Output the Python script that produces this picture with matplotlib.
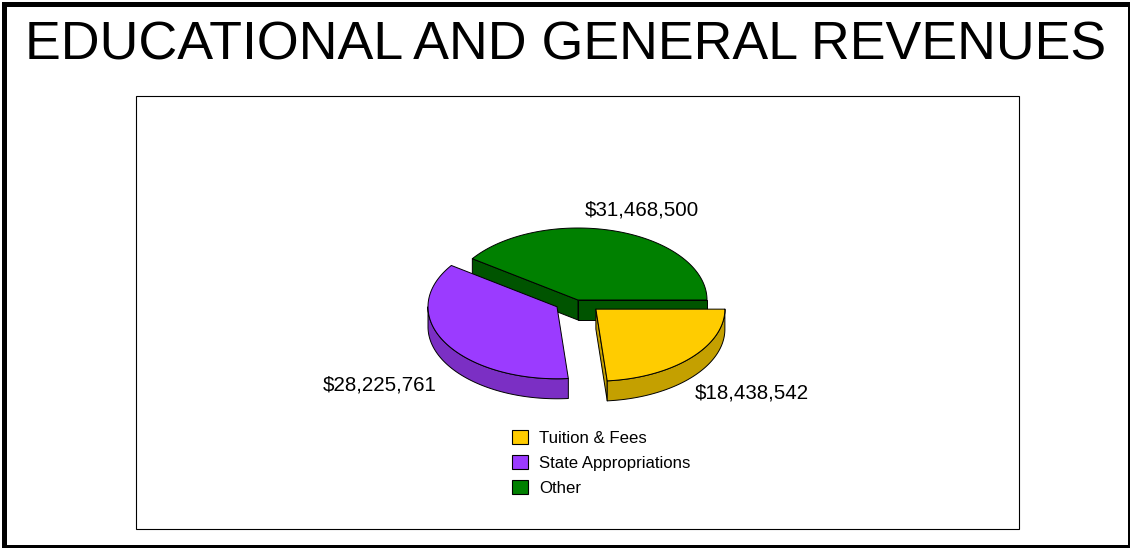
import numpy as np
import matplotlib
matplotlib.use("Agg")
import matplotlib.pyplot as plt
from matplotlib.patches import Polygon, Rectangle, Patch

# === DATA ===
categories = ["Tuition & Fees", "State Appropriations", "Other"]
revenues = [18438542, 28225761, 31468500]
value_labels = ["$18,438,542", "$28,225,761", "$31,468,500"]
explode = [0.188, 0.188, 0.0]

# === SETTINGS ===
W, H = 1130, 548
top_colors = ["#ffcc00", "#9b3bff", "#008000"]
side_colors = ["#c4a000", "#7b2fc4", "#005400"]
cx, cy = 578, 300
rx, ry = 129, 72
depth = 20
label_pos = [(752, 393), (380, 385), (642, 210)]

plt.rcParams["font.family"] = ["Liberation Sans", "DejaVu Sans"]


def arc(x0, y0, a0, a1):
    t = np.radians(np.linspace(a0, a1, 200))
    return np.column_stack([x0 + rx * np.cos(t), y0 - ry * np.sin(t)])


fig = plt.figure(figsize=(W / 100, H / 100), dpi=100)
ax = fig.add_axes([0, 0, 1, 1])
ax.set_xlim(0, W)
ax.set_ylim(H, 0)
ax.axis("off")

# outer border is uneven: thick left/top, thin right
ax.add_patch(Rectangle((2, 2), W - 2, H - 2, facecolor="black", edgecolor="none"))
ax.add_patch(Rectangle((7, 7), 1121, 538, facecolor="white", edgecolor="none"))
ax.add_patch(Rectangle((136, 96), 883, 433, fill=False, edgecolor="black", linewidth=0.8))

ax.text(566, 46, "EDUCATIONAL AND GENERAL REVENUES", ha="center", va="center", fontsize=38.7)

# slices start at 3 o'clock going counter clockwise: Other, State, Tuition
total = sum(revenues)
sweeps = [v / total * 360 for v in revenues]
start = {2: 0.0, 1: sweeps[2]}
start[0] = start[1] + sweeps[1]

line = dict(edgecolor="black", linewidth=0.7, joinstyle="round")
for i in [2, 1, 0]:
    a0, a1 = start[i], start[i] + sweeps[i]
    mid = np.radians((a0 + a1) / 2)
    x0 = cx + explode[i] * rx * np.cos(mid)
    y0 = cy - explode[i] * ry * np.sin(mid)
    apex = np.array([x0, y0])
    down = np.array([0, depth])

    # cut faces: the state slice shows none of its own
    cuts = {2: (a0, a1), 1: (), 0: (a0,)}[i]
    for a in cuts:
        p = arc(x0, y0, a, a)[0]
        ax.add_patch(Polygon([apex, p, p + down, apex + down], facecolor=side_colors[i], **line))

    # outer wall, only the part facing the viewer
    lo, hi = max(a0, 180), min(a1, 360)
    if hi > lo:
        top = arc(x0, y0, lo, hi)
        ax.add_patch(Polygon(np.vstack([top, (top + down)[::-1]]), facecolor=side_colors[i], **line))

    ax.add_patch(Polygon(np.vstack([[apex], arc(x0, y0, a0, a1)]), facecolor=top_colors[i], **line))

for (x, y), s in zip(label_pos, value_labels):
    ax.text(x, y, s, ha="center", va="center", fontsize=14.8)

handles = [Patch(facecolor=c, edgecolor="black", linewidth=0.8) for c in top_colors]
ax.legend(handles, categories, loc="upper left", bbox_to_anchor=(507 / W, 1 - 425 / H),
          frameon=False, fontsize=12.1, handlelength=0.95, handleheight=0.9,
          labelspacing=0.55, handletextpad=0.65, borderpad=0.3, borderaxespad=0)

fig.savefig("out.png", dpi=100)
plt.close(fig)
